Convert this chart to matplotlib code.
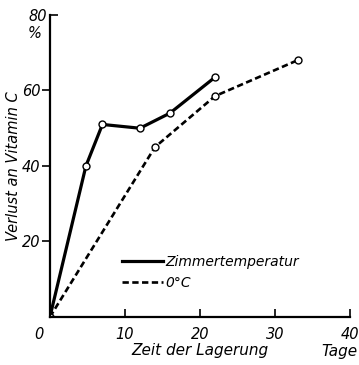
import matplotlib.pyplot as plt
import matplotlib.transforms as mtransforms
from matplotlib.lines import Line2D

# Vitamin C loss over storage time
tage_zimmer = [0, 4.8, 7.0, 12.0, 16.0, 22.0]
verlust_zimmer = [0, 40, 51, 50, 54, 63.5]

tage_kalt = [0, 14.0, 22.0, 33.0]
verlust_kalt = [0, 45, 58.5, 68]

x_ticks = [0, 10, 20, 30, 40]
y_ticks = [20, 40, 60]
y_top = 80

FONT = dict(family='DejaVu Sans', style='italic')
FS = 10.5

fig = plt.figure(figsize=(3.59, 3.65), dpi=100)
ax = fig.add_axes([0.139, 0.1315, 0.836, 0.8275])

ax.plot(tage_zimmer, verlust_zimmer, color='black', lw=2.3,
        marker='o', ms=5, mfc='white', mec='black', mew=1.0)
ax.plot(tage_kalt, verlust_kalt, color='black', lw=1.9, ls=(0, (2.4, 1.3)),
        marker='o', ms=5, mfc='white', mec='black', mew=1.0)

ax.set_xlim(0, 40)
ax.set_ylim(0, y_top)
for side in ['top', 'right']:
    ax.spines[side].set_visible(False)
for side in ['left', 'bottom']:
    ax.spines[side].set_linewidth(1.6)

ax.set_xticks(x_ticks)
ax.set_yticks(y_ticks)
# top of the y axis gets an inward tick
ax.set_yticks([y_top], minor=True)
ax.set_yticklabels([str(y_top)], minor=True)
ax.tick_params(axis='x', direction='in', length=6, width=1.2, pad=7)
ax.tick_params(axis='y', which='major', direction='out', length=6, width=1.2, pad=1)
ax.tick_params(axis='y', which='minor', direction='in', length=6, width=1.2, pad=2)
for lab in (ax.get_xticklabels() + ax.get_yticklabels()
            + ax.get_yticklabels(minor=True)):
    lab.set_fontfamily(FONT['family'])
    lab.set_fontstyle('italic')
    lab.set_fontsize(FS)

# nudge the origin label left
x0 = ax.get_xticklabels()[0]
x0.set_transform(x0.get_transform()
                 + mtransforms.ScaledTranslation(-8 / 72, 0, fig.dpi_scale_trans))

ax.set_xlabel('Zeit der Lagerung', fontsize=FS + 0.5, labelpad=1, **FONT)
ax.set_ylabel('Verlust an Vitamin C', fontsize=FS, **FONT)
ax.yaxis.set_label_coords(-0.095, 0.5)
ax.text(-2.0, 75.0, '%', fontsize=FS, ha='center', va='center', **FONT)
ax.text(38.6, -9.2, 'Tage', fontsize=FS + 0.5, ha='center', va='center', **FONT)

handles = [Line2D([], [], color='black', lw=2.3),
           Line2D([], [], color='black', lw=1.9, ls=(0, (2.4, 1.3)))]
ax.legend(handles, ['Zimmertemperatur', '0°C'], frameon=False,
          loc='center left', bbox_to_anchor=(8.0, 11.8),
          bbox_transform=ax.transData, handlelength=2.9, handletextpad=0.2,
          labelspacing=0.5, prop=dict(family=FONT['family'], style='italic', size=10))

fig.savefig('out.png', dpi=100)
